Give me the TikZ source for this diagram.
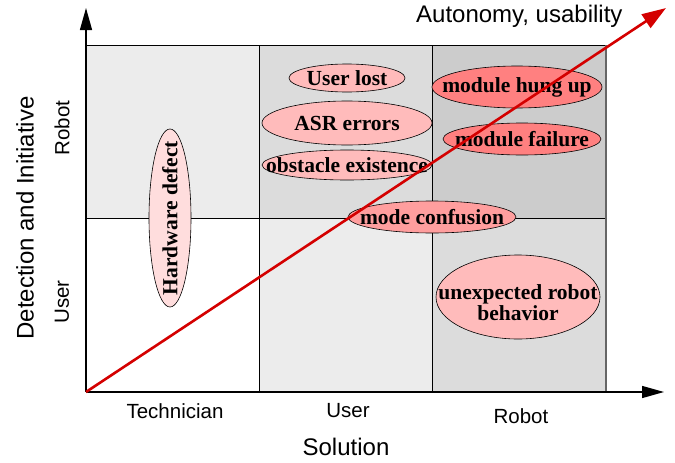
\documentclass[tikz,border=0pt]{standalone}
\usepackage{fontspec}
\setmainfont{Liberation Serif}
\setsansfont{Liberation Sans}
\usetikzlibrary{shapes.geometric,arrows.meta}
\definecolor{cellA}{HTML}{ECECEC}
\definecolor{cellB}{HTML}{DCDCDC}
\definecolor{cellC}{HTML}{CCCCCC}
\definecolor{issuelight}{HTML}{FFBBBB}
\definecolor{issuedark}{HTML}{FF8080}
\definecolor{issuemid}{HTML}{FF9E9E}
\definecolor{issuepale}{HTML}{FFDDDD}
\definecolor{trend}{HTML}{D40000}

\begin{document}
\begin{tikzpicture}[x=1pt, y=-1pt,
  axis/.style     = {draw=black, line width=1.4pt, -{Triangle[length=22pt, width=12pt]}},
  grid/.style     = {draw=black, line width=0.8pt},
  issue/.style    = {ellipse, draw=black, line width=0.6pt, fill=issuelight, inner sep=-40pt, align=center,
                     font=\fontsize{21.5}{22}\selectfont\bfseries},
  ticklabel/.style = {font=\fontsize{20.5}{22}\selectfont\sffamily},
  axistitle/.style = {font=\fontsize{24}{26}\selectfont\sffamily},
  ]
  \useasboundingbox (0,0) rectangle (675,463);
  % cells (column, row)
  \fill[cellA] (86,45)  rectangle (259,218);
  \fill[white] (86,218) rectangle (259,392);
  \fill[cellB] (259,45) rectangle (432,218);
  \fill[cellA] (259,218) rectangle (432,392);
  \fill[cellC] (432,45) rectangle (606,218);
  \fill[cellB] (432,218) rectangle (606,392);
  \draw[grid] (86,45) -- (606,45);
  \draw[grid] (86,218) -- (606,218);
  \draw[grid] (259,45) -- (259,392);
  \draw[grid] (432,45) -- (432,392);
  \draw[grid, draw=black!60, line width=1.2pt] (606,45) -- (606,392);
  % axes
  \coordinate (O) at (86,392);
  \coordinate (ytip) at (86,8);
  \coordinate (xtip) at (664,392);
  \draw[axis] (O) -- (ytip);
  \draw[axis] (O) -- (xtip);
  % issues
  \node[issue, minimum width=178pt, minimum height=42pt, fill=issuepale, rotate=90] (hw) at (170,218) {Hardware defect};
  \node[issue, minimum width=116pt, minimum height=28pt] (lost) at (347,78) {User lost};
  \node[issue, minimum width=170pt, minimum height=44pt] (asr) at (347,123) {ASR errors};
  \node[issue, minimum width=170pt, minimum height=30pt] (obst) at (347,165) {obstacle existence};
  \node[issue, minimum width=170pt, minimum height=42pt, fill=issuedark] (hung) at (517,87) {module hung up};
  \node[issue, minimum width=158pt, minimum height=32pt, fill=issuedark] (fail) at (522,139) {module failure};
  \node[issue, minimum width=168pt, minimum height=32pt, fill=issuemid] (mode) at (432,217) {mode confusion};
  \node[issue, minimum width=164pt, minimum height=84pt] (unexp) at (518,297)
    {\raisebox{-14pt}[0pt][0pt]{\def\arraystretch{0.9}\begin{tabular}{@{}c@{}}unexpected robot\\behavior\end{tabular}}};
  % trend
  \coordinate (ttip) at (666,8);
  \draw[trend, line width=2.6pt, -{Triangle[length=24pt, width=16pt]}] (O) -- (ttip);
  \node[axistitle, anchor=east] (auto) at (626,16) {Autonomy, usability};
  % axis labels
  \node[ticklabel, rotate=90] (yrobot) at (62,128) {Robot};
  \node[ticklabel, rotate=90] (yuser) at (62,302) {User};
  \node[axistitle, rotate=90] (ytitle) at (25,218) {Detection and Initiative};
  \node[ticklabel] (xtech) at (175,411) {Technician};
  \node[ticklabel] (xuser) at (348,411) {User};
  \node[ticklabel] (xrobot) at (521,416) {Robot};
  \node[axistitle] (xtitle) at (346,447) {Solution};
\end{tikzpicture}
\end{document}
